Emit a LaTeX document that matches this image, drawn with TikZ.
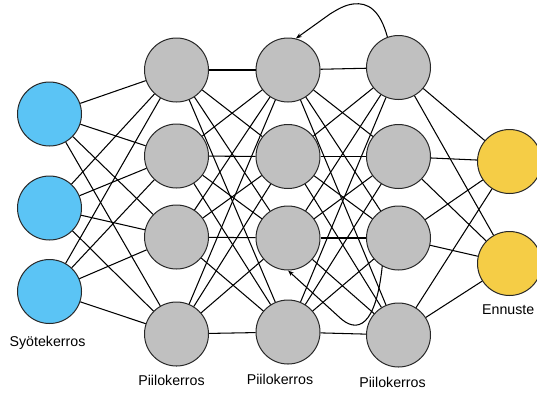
\documentclass[tikz,border=0pt]{standalone}
\usepackage{fontspec}
\setmainfont{Liberation Sans}
\usetikzlibrary{arrows.meta}
\definecolor{inblue}{RGB}{91,196,245}
\definecolor{hidgray}{RGB}{192,192,192}
\definecolor{outyellow}{RGB}{245,205,70}
\definecolor{rim}{RGB}{40,40,40}
\begin{document}
\begin{tikzpicture}[x=1pt,y=-1pt,
  neuron/.style={circle,draw=rim,line width=1pt,minimum size=64pt,inner sep=0pt},
  inn/.style={neuron,fill=inblue},
  hid/.style={neuron,fill=hidgray},
  outn/.style={neuron,fill=outyellow},
  link/.style={draw=black,line width=1.05pt},
  lbl/.style={font=\fontsize{14.2}{16}\selectfont,inner sep=0pt},
  loopback/.style={link,-{Stealth[length=6pt,width=4.5pt]}}]
\useasboundingbox (0,0) rectangle (537,392);
% input layer
\node[inn] (i1) at (49.5,114) {};
\node[inn] (i2) at (49.5,208) {};
\node[inn] (i3) at (49.5,291.5) {};
% hidden layer 1
\node[hid] (h1a) at (176.5,70) {};
\node[hid] (h1b) at (176.5,156) {};
\node[hid] (h1c) at (176.5,237) {};
\node[hid] (h1d) at (176.5,334) {};
% hidden layer 2
\node[hid] (h2a) at (288,70) {};
\node[hid] (h2b) at (288,156.5) {};
\node[hid] (h2c) at (288,238) {};
\node[hid] (h2d) at (288,332) {};
% hidden layer 3
\node[hid] (h3a) at (398.5,67.5) {};
\node[hid] (h3b) at (398.5,156.5) {};
\node[hid] (h3c) at (398.5,238) {};
\node[hid] (h3d) at (398.5,335) {};
% output layer
\node[outn] (o1) at (509.5,161.5) {};
\node[outn] (o2) at (509.5,263.5) {};
% connections
\foreach \s in {i1,i2,i3}
  \foreach \t in {h1a,h1b,h1c,h1d}
    \draw[link] (\s) -- (\t);
\foreach \s in {h1a,h1b,h1c,h1d}
  \foreach \t in {h2a,h2b,h2c,h2d}
    \draw[link] (\s) -- (\t);
\foreach \s in {h2a,h2b,h2c,h2d}
  \foreach \t in {h3a,h3b,h3c,h3d}
    \draw[link] (\s) -- (\t);
\foreach \s in {h3a,h3b,h3c,h3d}
  \foreach \t in {o1,o2}
    \draw[link] (\s) -- (\t);
% recurrent connections
\draw[loopback] (h3a.110) .. controls (380,10) and (368,2) .. (353,4)
  .. controls (345,5) and (338,9) .. (330,14) -- (h2a.76);
\draw[loopback] (h3c.240) .. controls (376,325) and (358,336) .. (338,316) -- (h2c.south);
% labels
\node[lbl] (l0) at (47.5,343) {Syötekerros};
\node[lbl] (l1) at (171.5,380) {Piilokerros};
\node[lbl] (l2) at (280,379) {Piilokerros};
\node[lbl] (l3) at (392.5,382) {Piilokerros};
\node[lbl,anchor=west] (l4) at (482,310) {Ennuste};
\end{tikzpicture}
\end{document}
